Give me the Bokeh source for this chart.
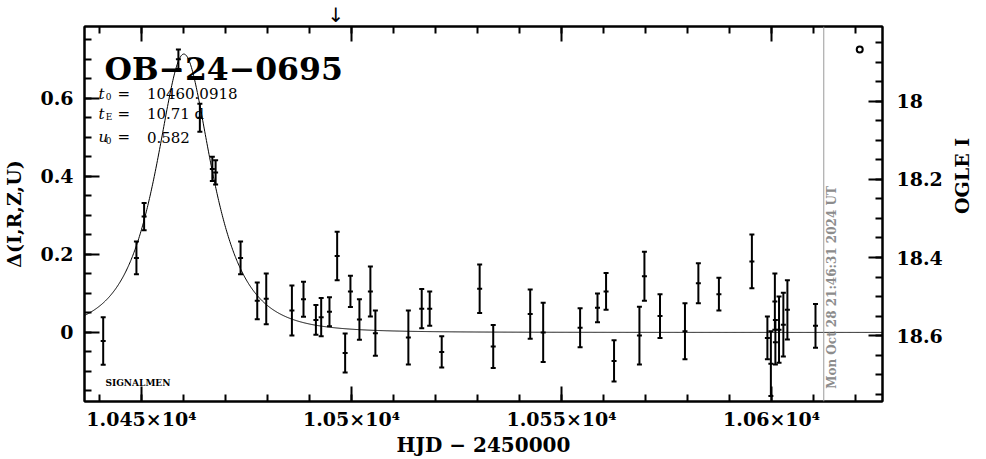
import math
import numpy as np
from bokeh.plotting import figure
from bokeh.models import (Range1d, LinearAxis, FixedTicker, Whisker, ColumnDataSource,
                          Label, Span, Title, TeeHead, CustomJSTickFormatter)
from bokeh.embed import file_html
from bokeh.resources import INLINE

# ---------------- data ----------------
hjd = [10440.90, 10448.81, 10450.64, 10458.80, 10463.91, 10466.88, 10467.66, 10473.60,
       10477.57, 10479.71, 10485.82, 10488.58, 10491.53, 10492.79, 10494.76, 10496.59,
       10498.49, 10499.75, 10501.89, 10504.50, 10505.69, 10513.54, 10516.72, 10518.62,
       10521.48, 10530.51, 10533.74, 10542.54, 10545.63, 10554.42, 10558.56, 10560.60,
       10562.50, 10568.54, 10569.73, 10573.44, 10579.38, 10582.57, 10587.46, 10595.31,
       10599.00, 10599.83, 10600.78, 10600.90, 10601.77, 10602.80, 10603.76,
       10610.45]
delta = [-0.022, 0.191, 0.297, 0.700, 0.550, 0.419, 0.410, 0.191,
         0.081, 0.086, 0.056, 0.085, 0.032, 0.039, 0.053, 0.196,
         -0.053, 0.105, 0.033, 0.105, -0.002, -0.013, 0.061, 0.061,
         -0.050, 0.112, -0.036, 0.047, 0.000, 0.012, 0.063, 0.105,
         -0.073, -0.008, 0.144, 0.042, 0.003, 0.126, 0.098, 0.182,
         -0.014, -0.080, 0.079, -0.025, 0.007, 0.020, 0.058,
         0.017]
err = [0.061, 0.042, 0.035, 0.025, 0.036, 0.031, 0.031, 0.042,
       0.047, 0.065, 0.064, 0.045, 0.038, 0.049, 0.037, 0.062,
       0.050, 0.040, 0.052, 0.064, 0.058, 0.069, 0.050, 0.044,
       0.040, 0.062, 0.055, 0.063, 0.076, 0.050, 0.037, 0.047,
       0.053, 0.074, 0.063, 0.056, 0.072, 0.051, 0.042, 0.069,
       0.055, 0.083, 0.072, 0.057, 0.085, 0.082, 0.076,
       0.056]

# PSPL model parameters printed on the chart
event_name = "OB\u221224\u22120695"
t0 = 10460.0918
tE = 10.71
u0 = 0.582
param_symbols = ["t", "t", "u"]
param_subs = ["0", "E", "0"]
param_values = ["10460.0918", "10.71 d", "0.582"]

x_ticks = [10450, 10500, 10550, 10600]
x_tick_labels = ["1.045\u00d710\u2074", "1.05\u00d710\u2074", "1.055\u00d710\u2074", "1.06\u00d710\u2074"]
y_ticks = [0, 0.2, 0.4, 0.6]
y_tick_labels = ["0", "0.2", "0.4", "0.6"]
mag_ticks = [18.0, 18.2, 18.4, 18.6]
mag_tick_labels = ["18", "18.2", "18.4", "18.6"]
baseline_mag = 18.592
now_hjd = 10612.42
timestamp = "Mon Oct 28 21:46:31 2024 UT"
x_title = "HJD \u2212 2450000"
y_title = "\u0394(I,R,Z,U)"
y2_title = "OGLE I"

x_lo, x_hi = 10436.45, 10626.4
y_lo, y_hi = -0.177, 0.784

FONT = "DejaVu Serif"

p = figure(width=986, height=459, output_backend="svg", toolbar_location=None,
           x_range=Range1d(x_lo, x_hi), y_range=Range1d(y_lo, y_hi),
           min_border_left=83, min_border_right=104, min_border_top=25, min_border_bottom=57)
p.grid.visible = False
p.outline_line_color = "black"
p.outline_line_width = 2
p.background_fill_color = "white"
p.border_fill_color = "white"
p.extra_y_ranges = {"mag": Range1d(baseline_mag - y_lo, baseline_mag - y_hi)}


def style(ax, major=15, minor=7):
    ax.major_tick_in = major
    ax.major_tick_out = 0
    ax.minor_tick_in = minor
    ax.minor_tick_out = 0
    ax.axis_line_width = 2
    ax.axis_line_color = "black"
    ax.major_tick_line_width = 2
    ax.minor_tick_line_width = 2
    ax.major_tick_line_color = "black"
    ax.minor_tick_line_color = "black"
    ax.major_label_text_font = FONT
    ax.major_label_text_font_style = "bold"
    ax.major_label_text_font_size = "19px"
    ax.major_label_text_color = "black"
    ax.axis_label_text_font = FONT
    ax.axis_label_text_font_style = "bold"
    ax.axis_label_text_font_size = "19px"
    ax.axis_label_text_color = "black"


x_minor = [x_ticks[0] - 10 + 10 * i for i in range(19)]
y_minor = [round(-0.15 + 0.05 * i, 3) for i in range(19)]
m_minor = [round(17.85 + 0.05 * i, 3) for i in range(19)]

xb = p.xaxis[0]
xb.ticker = FixedTicker(ticks=x_ticks, minor_ticks=x_minor)
xb.major_label_overrides = dict(zip(x_ticks, x_tick_labels))
style(xb)
xb.axis_label = x_title
xb.axis_label_text_font_size = "20px"
xb.major_label_standoff = 6
xb.axis_label_standoff = 0

yl = p.yaxis[0]
yl.ticker = FixedTicker(ticks=y_ticks, minor_ticks=y_minor)
yl.major_label_overrides = dict(zip(y_ticks, y_tick_labels))
style(yl)
yl.axis_label = y_title
yl.major_label_standoff = 11
yl.axis_label_standoff = 12

xt = LinearAxis(ticker=FixedTicker(ticks=x_ticks, minor_ticks=x_minor),
                formatter=CustomJSTickFormatter(code="return ''"))
style(xt)
xt.major_label_text_font_size = "0px"
xt.major_label_standoff = 0
p.add_layout(xt, "above")

yr = LinearAxis(y_range_name="mag", ticker=FixedTicker(ticks=mag_ticks, minor_ticks=m_minor))
yr.major_label_overrides = dict(zip(mag_ticks, mag_tick_labels))
style(yr, major=14, minor=7)
yr.axis_label = y2_title
yr.major_label_standoff = 14
yr.axis_label_standoff = 16
if "axis_label_orientation" in LinearAxis.properties():
    yr.axis_label_orientation = math.pi / 2
p.add_layout(yr, "right")

# small downward arrow above the frame
p.add_layout(Title(text="\u2193", align="left", offset=243, standoff=0,
                   text_font="DejaVu Sans", text_font_style="normal",
                   text_font_size="20px", text_color="black"), "above")

# ---------------- model curve (PSPL from the printed parameters) ----------------
tt = np.linspace(x_lo, x_hi, 1500)
uu = np.sqrt(u0 ** 2 + ((tt - t0) / tE) ** 2)
AA = (uu ** 2 + 2) / (uu * np.sqrt(uu ** 2 + 4))
p.line(tt, 2.5 * np.log10(AA), line_color="black", line_width=1)

# ---------------- data with error bars ----------------
d = np.array(delta)
e = np.array(err)
src = ColumnDataSource(dict(x=hjd, y=delta, up=list(d + e), lo=list(d - e)))
p.add_layout(Whisker(source=src, base="x", upper="up", lower="lo",
                     line_color="black", line_width=2,
                     upper_head=TeeHead(size=5, line_width=2, line_color="black"),
                     lower_head=TeeHead(size=5, line_width=2, line_color="black")))
p.scatter("x", "y", source=src, marker="dash", size=5, line_color="black", line_width=2)

# ---------------- current-date line and stamp ----------------
p.add_layout(Span(location=now_hjd, dimension="height", line_color="#9a9a9a", line_width=1))
p.add_layout(Label(x=now_hjd + 2.0, y=-0.1445, text=timestamp, angle=math.pi / 2,
                   text_font=FONT, text_font_style="bold", text_font_size="12px",
                   text_color="#8c8c8c", text_align="left", text_baseline="middle"))

# marker symbol top right
p.scatter([10620.98], [0.725], marker="circle", size=6, fill_color="white",
          line_color="black", line_width=2)

# ---------------- texts in the frame ----------------
p.add_layout(Label(x=10441.2, y=0.677, text=event_name, text_font=FONT,
                   text_font_style="bold", text_font_size="31.5px", text_color="black",
                   text_baseline="alphabetic"))

rows_y = [0.6118, 0.5593, 0.4996]
for sym, sub, val, yy in zip(param_symbols, param_subs, param_values, rows_y):
    p.add_layout(Label(x=10439.78, y=yy, text=sym, text_font=FONT, text_color="black",
                       text_font_style="italic", text_font_size="15px", text_baseline="alphabetic"))
    p.add_layout(Label(x=10441.5, y=yy - 0.007, text=sub, text_font=FONT, text_color="black",
                       text_font_size="9px", text_baseline="alphabetic"))
    p.add_layout(Label(x=10444.3, y=yy, text="=", text_font=FONT, text_color="black",
                       text_font_size="15px", text_baseline="alphabetic"))
    p.add_layout(Label(x=10451.3, y=yy, text=val, text_font=FONT, text_color="black",
                       text_font_size="15px", text_baseline="alphabetic"))

p.add_layout(Label(x=10441.44, y=-0.1307, text="SIGNALMEN", text_font=FONT, text_color="black",
                   text_font_style="bold", text_font_size="9px", text_baseline="alphabetic"))

open("out.html", "w").write(file_html(p, INLINE))
